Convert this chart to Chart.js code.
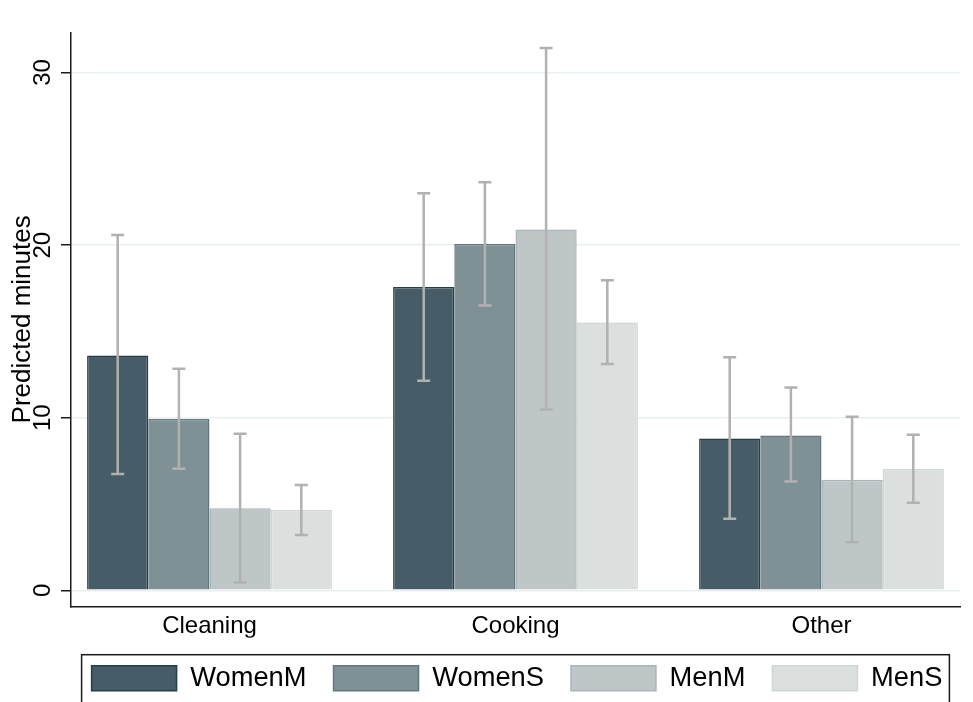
<!DOCTYPE html>
<html>
<head>
<meta charset="utf-8">
<title>Predicted minutes by task</title>
<script src="https://cdn.jsdelivr.net/npm/chart.js@4/dist/chart.umd.min.js"></script>
<style>
  html, body { margin: 0; padding: 0; background: #ffffff; }
  #wrap { width: 973px; height: 702px; }
</style>
</head>
<body>
<div id="wrap"><canvas id="chart" width="973" height="702"></canvas></div>
<script>
// Task categories and the four household groups
const categories = ['Cleaning', 'Cooking', 'Other'];
const seriesNames = ['WomenM', 'WomenS', 'MenM', 'MenS'];

// Predicted minutes per task
const womenM = [13.61, 17.57, 8.80];
const womenS = [9.92, 20.06, 8.97];
const menM   = [4.75, 20.90, 6.41];
const menS   = [4.65, 15.52, 7.03];

// Confidence interval bounds
const womenMLow  = [6.74, 12.14, 4.15];
const womenMHigh = [20.58, 23.01, 13.51];
const womenSLow  = [7.05, 16.50, 6.31];
const womenSHigh = [12.84, 23.65, 11.75];
const menMLow    = [0.45, 10.48, 2.78];
const menMHigh   = [9.07, 31.42, 10.06];
const menSLow    = [3.21, 13.11, 5.08];
const menSHigh   = [6.10, 17.97, 9.02];

// Value-axis ticks
const yTicks = [0, 10, 20, 30];

const seriesValues = [womenM, womenS, menM, menS];
const seriesLow = [womenMLow, womenSLow, menMLow, menSLow];
const seriesHigh = [womenMHigh, womenSHigh, menMHigh, menSHigh];
const fills = ['#465c67', '#809196', '#bec6c8', '#dbe0df'];
const edges = ['#243e4a', '#62777e', '#abb5b7', '#d0d6d5'];

const FONT = "'Liberation Sans', Arial, Helvetica, sans-serif";
const PAD_LEFT = 9.7;
const PLOT_LEFT = 71;

const datasets = seriesNames.map((name, s) => ({
  label: name,
  data: categories.map((c, i) => ({ x: i + 1, y: seriesValues[s][i] })),
  backgroundColor: fills[s],
  borderColor: edges[s],
  borderWidth: 1.5,
  categoryPercentage: 0.8,
  barPercentage: 1.0
}));

// Draws the confidence-interval whiskers on top of each bar
const errorBars = {
  id: 'errorBars',
  afterDatasetsDraw(chart) {
    const ctx = chart.ctx;
    const yScale = chart.scales.y;
    ctx.save();
    ctx.strokeStyle = '#b1b1b1';
    ctx.lineWidth = 2.5;
    ctx.lineCap = 'butt';
    chart.data.datasets.forEach((ds, s) => {
      const meta = chart.getDatasetMeta(s);
      meta.data.forEach((bar, i) => {
        const x = bar.x;
        const yLo = yScale.getPixelForValue(seriesLow[s][i]);
        const yHi = yScale.getPixelForValue(seriesHigh[s][i]);
        const half = 6.5;
        ctx.beginPath();
        ctx.moveTo(x, yLo);
        ctx.lineTo(x, yHi);
        ctx.moveTo(x - half, yHi);
        ctx.lineTo(x + half, yHi);
        ctx.moveTo(x - half, yLo);
        ctx.lineTo(x + half, yLo);
        ctx.stroke();
      });
    });
    ctx.restore();
  }
};

// Centres the legend row under the plot region and frames it
const legendFrame = {
  id: 'legendFrame',
  afterLayout(chart) {
    const lg = chart.legend;
    const area = chart.chartArea;
    if (!lg || !area) return;
    const centre = (area.left + area.right) / 2 + 1.5;
    lg.right = chart.width + 40;
    lg.left = 2 * centre - lg.right;
  },
  afterDraw(chart) {
    const lg = chart.legend;
    if (!lg || !lg.legendHitBoxes || !lg.legendHitBoxes.length) return;
    const boxes = lg.legendHitBoxes;
    const first = boxes[0];
    const last = boxes[boxes.length - 1];
    const left = first.left - 10;
    const right = last.left + last.width + 7;
    const top = first.top - 10;
    const ctx = chart.ctx;
    ctx.save();
    ctx.strokeStyle = '#1a1a1a';
    ctx.lineWidth = 1.5;
    ctx.strokeRect(left, top, right - left, chart.height + 20 - top);
    ctx.restore();
  }
};

new Chart(document.getElementById('chart'), {
  type: 'bar',
  data: { datasets },
  plugins: [errorBars, legendFrame],
  options: {
    responsive: false,
    animation: false,
    devicePixelRatio: 1,
    layout: { padding: { left: PAD_LEFT, right: 13, top: 32.3, bottom: 0 } },
    plugins: {
      tooltip: { enabled: false },
      legend: {
        display: true,
        position: 'bottom',
        fullSize: true,
        align: 'center',
        labels: {
          boxWidth: 85,
          boxHeight: 25,
          padding: 27,
          color: '#000000',
          font: { family: FONT, size: 27.3 }
        }
      }
    },
    scales: {
      x: {
        type: 'linear',
        offset: false,
        min: 0.5474,
        max: 3.4526,
        afterBuildTicks(scale) {
          scale.ticks = categories.map((c, i) => ({ value: i + 1 }));
        },
        afterFit(scale) {
          scale.height = 31.3;
        },
        grid: { display: false, offset: false },
        border: { display: true, color: '#1a1a1a', width: 1.5 },
        ticks: {
          color: '#000000',
          padding: 0,
          maxRotation: 0,
          autoSkip: false,
          font: { family: FONT, size: 24, lineHeight: 0.975 },
          callback: (v) => categories[Math.round(v) - 1] ?? ''
        }
      },
      y: {
        type: 'linear',
        min: -0.93,
        max: 32.33,
        afterBuildTicks(scale) {
          scale.ticks = yTicks.map(v => ({ value: v }));
        },
        afterFit(scale) {
          scale.width = PLOT_LEFT - PAD_LEFT;
        },
        grid: {
          color: '#e8eff0',
          lineWidth: 1.5,
          drawTicks: true,
          tickLength: 10,
          tickColor: '#1a1a1a',
          tickWidth: 1.5
        },
        border: { display: true, color: '#1a1a1a', width: 1.5 },
        ticks: {
          color: '#000000',
          padding: 4.4,
          minRotation: 90,
          maxRotation: 90,
          crossAlign: 'center',
          font: { family: FONT, size: 24, lineHeight: 0.5 }
        },
        title: {
          display: true,
          text: 'Predicted minutes',
          color: '#000000',
          padding: { top: 0, bottom: 8.9 },
          font: { family: FONT, size: 26, lineHeight: 1 }
        }
      }
    }
  }
});
</script>
</body>
</html>
